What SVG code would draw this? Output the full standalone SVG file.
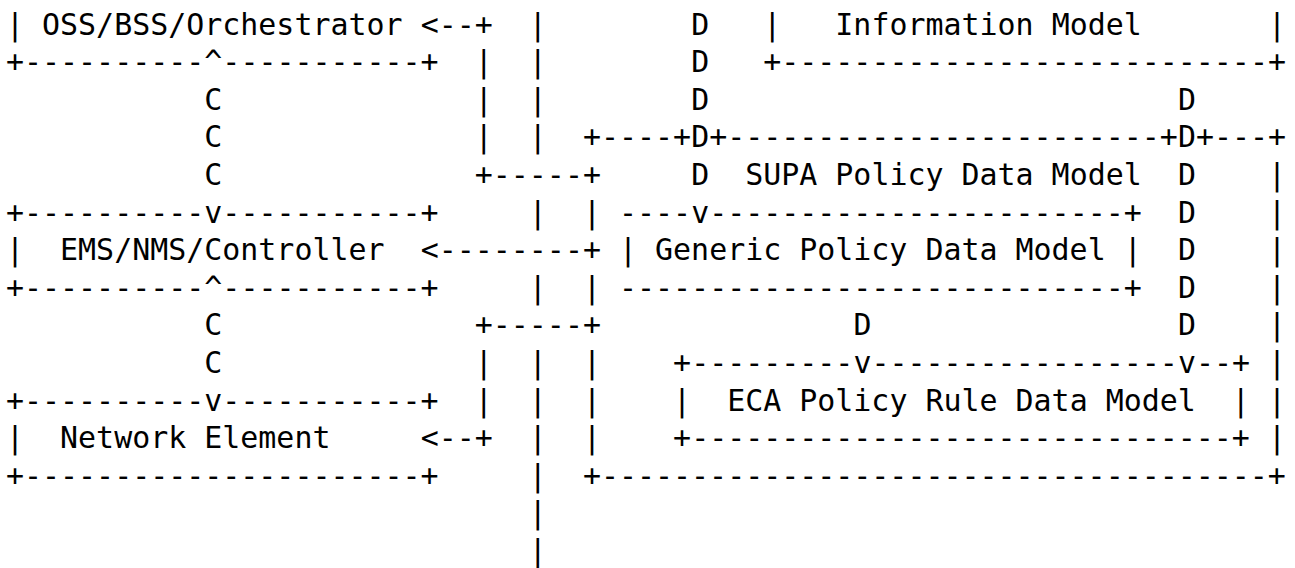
<svg xmlns="http://www.w3.org/2000/svg" width="1295" height="568" viewBox="0 0 1295 568" xml:space="preserve">
<style>
text{font-family:"DejaVu Sans Mono","Liberation Mono",monospace;font-size:29.95px;fill:#000;white-space:pre}
</style>
<rect width="1295" height="568" fill="#fff"/>
<g id="node-oss">
<text x="6" y="34.5">| OSS/BSS/Orchestrator</text>
<text x="6" y="72.1">+----------</text>
<text x="222.36" y="72.1">-----------+</text>
</g>
<g id="node-ems">
<text x="6" y="222.5">+----------</text>
<text x="222.36" y="222.5">-----------+</text>
<text x="6" y="260.1">|  EMS/NMS/Controller</text>
<text x="6" y="297.7">+----------</text>
<text x="222.36" y="297.7">-----------+</text>
</g>
<g id="node-ne">
<text x="6" y="410.5">+----------</text>
<text x="222.36" y="410.5">-----------+</text>
<text x="6" y="448.1">|  Network Element</text>
<text x="6" y="485.7">+----------------------+</text>
</g>
<g id="node-information-model">
<text x="763.26" y="34.5">|   Information Model       |</text>
<text x="763.26" y="72.1">+---------------------------+</text>
</g>
<g id="node-supa">
<text x="582.96" y="147.3">+----+</text>
<text x="709.17" y="147.3">+------------------------+</text>
<text x="1195.98" y="147.3">+---+</text>
<text x="745.23" y="184.9">SUPA Policy Data Model</text>
<text x="1268.1" y="184.9">|</text>
<text x="582.96" y="222.5">|</text>
<text x="1268.1" y="222.5">|</text>
<text x="1268.1" y="260.1">|</text>
<text x="582.96" y="297.7">|</text>
<text x="1268.1" y="297.7">|</text>
<text x="1268.1" y="335.3">|</text>
<text x="582.96" y="372.9">|</text>
<text x="1268.1" y="372.9">|</text>
<text x="582.96" y="410.5">|</text>
<text x="1268.1" y="410.5">|</text>
<text x="582.96" y="448.1">|</text>
<text x="1268.1" y="448.1">|</text>
<text x="582.96" y="485.7">+-------------------------------------+</text>
</g>
<g id="node-generic">
<text x="619.02" y="222.5">----</text>
<text x="709.17" y="222.5">-----------------------+</text>
<text x="619.02" y="260.1">| Generic Policy Data Model |</text>
<text x="619.02" y="297.7">----------------------------+</text>
</g>
<g id="node-eca">
<text x="673.11" y="372.9">+---------</text>
<text x="871.44" y="372.9">-----------------</text>
<text x="1195.98" y="372.9">--+</text>
<text x="673.11" y="410.5">|  ECA Policy Rule Data Model  |</text>
<text x="673.11" y="448.1">+------------------------------+</text>
</g>
<g id="connectors">
<text x="204.33" y="72.1">^</text>
<text x="204.33" y="109.7">C</text>
<text x="204.33" y="147.3">C</text>
<text x="204.33" y="184.9">C</text>
<text x="204.33" y="222.5">v</text>
<text x="204.33" y="297.7">^</text>
<text x="204.33" y="335.3">C</text>
<text x="204.33" y="372.9">C</text>
<text x="204.33" y="410.5">v</text>
<text x="420.69" y="34.5">&lt;--+</text>
<text x="474.78" y="72.1">|</text>
<text x="474.78" y="109.7">|</text>
<text x="474.78" y="147.3">|</text>
<text x="474.78" y="184.9">+-----+</text>
<text x="420.69" y="260.1">&lt;--------+</text>
<text x="474.78" y="335.3">+-----+</text>
<text x="474.78" y="372.9">|</text>
<text x="474.78" y="410.5">|</text>
<text x="420.69" y="448.1">&lt;--+</text>
<text x="528.87" y="34.5">|</text>
<text x="528.87" y="72.1">|</text>
<text x="528.87" y="109.7">|</text>
<text x="528.87" y="147.3">|</text>
<text x="528.87" y="222.5">|</text>
<text x="528.87" y="297.7">|</text>
<text x="528.87" y="372.9">|</text>
<text x="528.87" y="410.5">|</text>
<text x="528.87" y="448.1">|</text>
<text x="528.87" y="485.7">|</text>
<text x="528.87" y="523.3">|</text>
<text x="528.87" y="560.9">|</text>
<text x="691.14" y="34.5">D</text>
<text x="691.14" y="72.1">D</text>
<text x="691.14" y="109.7">D</text>
<text x="691.14" y="147.3">D</text>
<text x="691.14" y="184.9">D</text>
<text x="691.14" y="222.5">v</text>
<text x="1177.95" y="109.7">D</text>
<text x="1177.95" y="147.3">D</text>
<text x="1177.95" y="184.9">D</text>
<text x="1177.95" y="222.5">D</text>
<text x="1177.95" y="260.1">D</text>
<text x="1177.95" y="297.7">D</text>
<text x="1177.95" y="335.3">D</text>
<text x="1177.95" y="372.9">v</text>
<text x="853.41" y="335.3">D</text>
<text x="853.41" y="372.9">v</text>
</g>
</svg>
